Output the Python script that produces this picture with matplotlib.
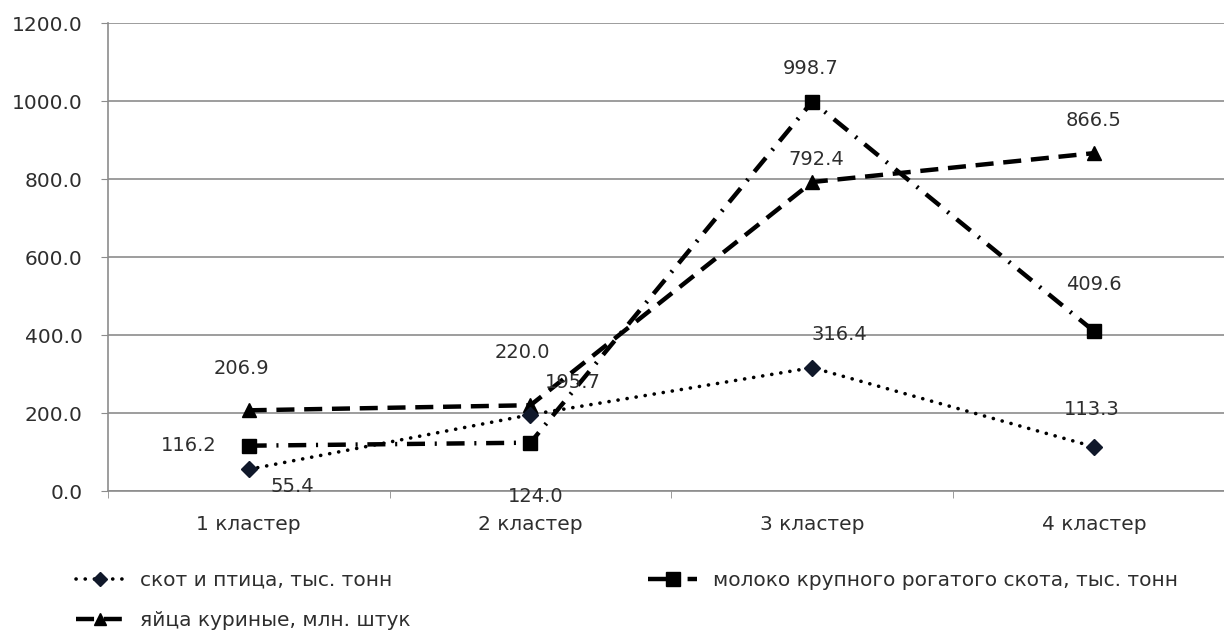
import matplotlib
matplotlib.use("Agg")
import matplotlib.pyplot as plt
from matplotlib.lines import Line2D

plt.rcParams['lines.scale_dashes'] = False
plt.rcParams['font.family'] = ['DejaVu Sans']

# Data
clusters = ["1 кластер", "2 кластер", "3 кластер", "4 кластер"]
meat = [55.4, 195.7, 316.4, 113.3]        # скот и птица
milk = [116.2, 124.0, 998.7, 409.6]       # молоко КРС
eggs = [206.9, 220.0, 792.4, 866.5]       # яйца куриные
names = ["скот и птица, тыс. тонн",
         "молоко крупного рогатого скота, тыс. тонн",
         "яйца куриные, млн. штук"]
yticks = [0, 200, 400, 600, 800, 1000, 1200]

# label offsets in pixels
meat_off = [(44, -17), (42, 32), (27, 33), (-2, 37)]
milk_off = [(-60, 0), (5, -54), (-2, 33), (0, 47)]
eggs_off = [(-7, 42), (-8, 53), (4, 23), (-1, 33)]

txt = '#2e2e2e'
grid = '#8c8c8c'

fig = plt.figure(figsize=(12.24, 6.41), dpi=100)
ax = fig.add_axes([0.088, 0.234, 0.921, 0.730])

x = list(range(len(clusters)))

l_meat, = ax.plot(x, meat, color='black', lw=2.6, marker='D', ms=8,
                  markerfacecolor='#10182a', markeredgecolor='#10182a',
                  dash_capstyle='round', zorder=4)
l_meat.set_dashes((0.1, 6.5))

l_milk, = ax.plot(x, milk, color='black', lw=3.2, marker='s', ms=10.5,
                  zorder=3)
l_milk.set_dashes((13, 7, 1.5, 7))

l_eggs, = ax.plot(x, eggs, color='black', lw=3.2, marker='^', ms=10,
                  zorder=3)
l_eggs.set_dashes((13, 7))

for vals, offs in ((meat, meat_off), (milk, milk_off), (eggs, eggs_off)):
    for xi, v, (dx, dy) in zip(x, vals, offs):
        ax.annotate(f"{v:.1f}", (xi, v), xytext=(dx, dy),
                    textcoords='offset pixels', ha='center', va='center',
                    fontsize=14, color=txt, zorder=5)

ax.set_xlim(-0.5, len(clusters) - 0.5)
ax.set_ylim(0, 1200)
ax.set_yticks(yticks)
ax.set_yticklabels([f"{v:.1f}" for v in yticks], fontsize=14.5, color=txt)
ax.yaxis.grid(True, color=grid, lw=1.2)
ax.set_axisbelow(True)

ax.set_xticks(x)
ax.set_xticklabels(clusters, fontsize=14.5, color=txt)
ax.set_xticks([i - 0.5 for i in range(len(clusters) + 1)], minor=True)
ax.tick_params(axis='x', which='major', length=0, pad=17)
ax.tick_params(axis='x', which='minor', length=5, color=grid, direction='out')
ax.tick_params(axis='y', length=5, color=grid, pad=13)

for side in ('top', 'right'):
    ax.spines[side].set_visible(False)
for side in ('left', 'bottom'):
    ax.spines[side].set_color(grid)
    ax.spines[side].set_linewidth(1.2)

# legend: two rows, item order row by row
def handle(line):
    h = Line2D([], [], color='black', lw=line.get_linewidth(),
               marker=line.get_marker(), ms=line.get_markersize() * 0.9,
               markerfacecolor=line.get_markerfacecolor(),
               markeredgecolor=line.get_markeredgecolor(),
               dash_capstyle=line.get_dash_capstyle())
    h.set_dashes(line._dash_pattern[1] if line._dash_pattern[1] else None)
    return h

leg_kw = dict(frameon=False, fontsize=14.5, handlelength=2.4,
              handletextpad=0.8, labelspacing=1.05, labelcolor=txt)
leg1 = fig.legend([handle(l_meat), handle(l_eggs)], [names[0], names[2]],
                  loc='upper left', bbox_to_anchor=(0.047, 0.138), **leg_kw)
leg2 = fig.legend([handle(l_milk)], [names[1]],
                  loc='upper left', bbox_to_anchor=(0.515, 0.138), **leg_kw)

fig.savefig("out.png", dpi=100, facecolor='white')
